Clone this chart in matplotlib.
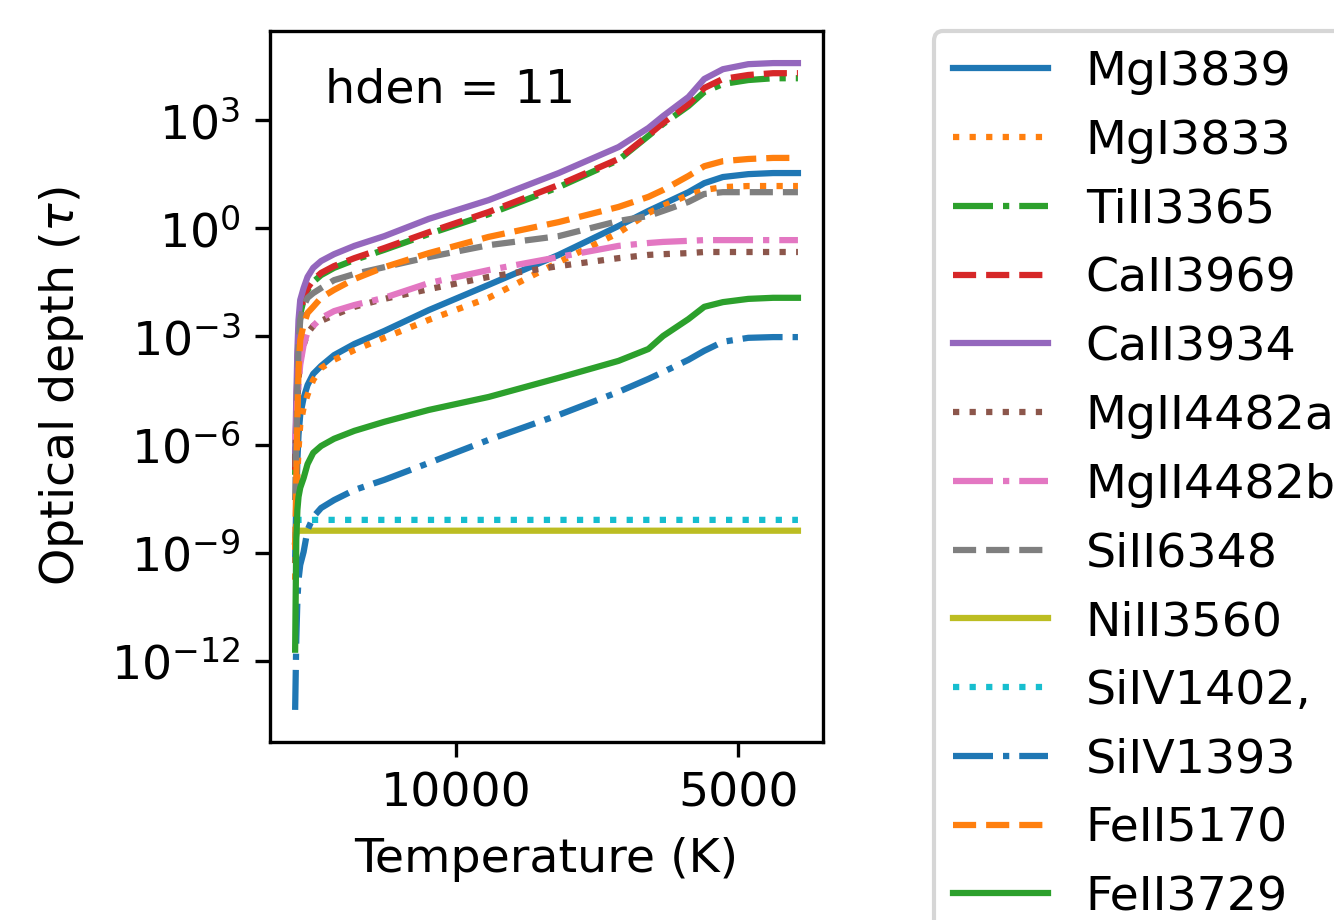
# optical depth vs temperature for a set of lines, hden = 11

import numpy as np
import matplotlib
matplotlib.use("Agg")
import matplotlib.pyplot as plt
from matplotlib.ticker import NullLocator

plt.rcParams['font.size'] = 11.4

# temperature grid (K), hot top of the slab first
temperature = [12850, 12830, 12810, 12790, 12760, 12700, 12630, 12530, 12390, 12160,
               11800, 11270, 10480, 9420, 8180, 7120, 6590, 6330, 5880, 5600,
               5270, 4820, 4380, 3940]

# log10 of the optical depth
log_MgI3839 = [-9.20, -7.54, -6.43, -5.73, -5.18, -4.71, -4.35, -4.04, -3.82, -3.52,
               -3.21, -2.85, -2.27, -1.57, -0.74, 0.06, 0.48, 0.67, 1.00, 1.25,
               1.42, 1.50, 1.53, 1.53]
log_MgI3833 = [-9.75, -8.09, -6.84, -6.15, -5.46, -4.98, -4.62, -4.21, -3.88, -3.65,
               -3.38, -3.04, -2.54, -1.93, -0.94, -0.13, 0.42, 0.62, 0.92, 1.06,
               1.14, 1.17, 1.17, 1.17]
log_TiII3365 = [-6.84, -5.46, -3.99, -3.02, -2.38, -1.99, -1.71, -1.49, -1.30, -1.10,
                -0.88, -0.60, -0.16, 0.39, 1.14, 1.89, 2.56, 2.89, 3.39, 3.78,
                4.00, 4.11, 4.16, 4.16]
log_CaII3969 = [-6.70, -5.32, -3.93, -2.96, -2.32, -1.93, -1.66, -1.44, -1.24, -1.05,
                -0.83, -0.55, -0.11, 0.45, 1.20, 1.92, 2.58, 2.92, 3.44, 3.89,
                4.14, 4.25, 4.30, 4.30]
log_CaII3934 = [-6.29, -4.76, -3.38, -2.54, -1.99, -1.66, -1.35, -1.10, -0.91, -0.72,
                -0.49, -0.22, 0.26, 0.78, 1.53, 2.25, 2.78, 3.11, 3.64, 4.14,
                4.41, 4.55, 4.58, 4.58]
log_MgII4482a = [-6.43, -5.59, -4.76, -4.21, -3.65, -3.24, -2.91, -2.71, -2.57, -2.41,
                 -2.18, -1.96, -1.69, -1.35, -1.05, -0.83, -0.74, -0.72, -0.69, -0.66,
                 -0.66, -0.66, -0.66, -0.66]
log_MgII4482b = [-5.87, -5.32, -4.76, -4.35, -3.79, -3.24, -2.88, -2.71, -2.49, -2.30,
                 -2.13, -1.93, -1.52, -1.16, -0.80, -0.49, -0.41, -0.38, -0.35, -0.33,
                 -0.33, -0.33, -0.33, -0.33]
log_SiII6348 = [-7.54, -5.87, -4.49, -3.24, -2.54, -2.16, -1.93, -1.80, -1.66, -1.44,
                -1.27, -1.08, -0.80, -0.47, -0.22, 0.20, 0.34, 0.48, 0.73, 0.95,
                1.00, 1.00, 1.00, 1.00]
log_NiII3560 = [-8.70, -8.50, -8.39, -8.39, -8.39, -8.39, -8.39, -8.39, -8.39, -8.39,
                -8.39, -8.39, -8.39, -8.39, -8.39, -8.39, -8.39, -8.39, -8.39, -8.39,
                -8.39, -8.39, -8.39, -8.39]
log_SiIV1402 = [-8.60, -8.20, -8.09, -8.09, -8.09, -8.09, -8.09, -8.09, -8.09, -8.09,
                -8.09, -8.09, -8.09, -8.09, -8.09, -8.09, -8.09, -8.09, -8.09, -8.09,
                -8.09, -8.09, -8.09, -8.09]
log_SiIV1393 = [-13.36, -11.42, -10.31, -9.75, -9.34, -8.98, -8.37, -8.01, -7.76, -7.54,
                -7.26, -6.98, -6.51, -5.87, -5.18, -4.54, -4.18, -3.99, -3.65, -3.40,
                -3.15, -3.04, -3.02, -3.02]
log_FeII5170 = [-8.92, -6.98, -5.32, -3.93, -3.10, -2.68, -2.35, -2.18, -1.93, -1.71,
                -1.41, -1.08, -0.69, -0.24, 0.17, 0.59, 0.87, 1.06, 1.45, 1.72,
                1.86, 1.92, 1.95, 1.95]
log_FeII3729 = [-11.69, -8.64, -7.81, -7.45, -7.20, -6.93, -6.54, -6.23, -6.04, -5.84,
                -5.62, -5.37, -5.04, -4.68, -4.15, -3.68, -3.35, -2.99, -2.52, -2.18,
                -2.05, -1.96, -1.93, -1.93]

line_names = ["MgI3839", "MgI3833", "TiII3365", "CaII3969", "CaII3934",
              "MgII4482a", "MgII4482b", "SiII6348", "NiII3560", "SiIV1402,",
              "SiIV1393", "FeII5170", "FeII3729"]
line_logtau = [log_MgI3839, log_MgI3833, log_TiII3365, log_CaII3969, log_CaII3934,
               log_MgII4482a, log_MgII4482b, log_SiII6348, log_NiII3560, log_SiIV1402,
               log_SiIV1393, log_FeII5170, log_FeII3729]

styles = ['-', ':', '-.', '--']

fig = plt.figure(figsize=(1334 / 300, 920 / 300), dpi=300)
ax = fig.add_subplot(111)
fig.subplots_adjust(left=0.2024, right=0.617, top=0.9663, bottom=0.1935)

for i, (name, logtau) in enumerate(zip(line_names, line_logtau)):
    ax.plot(temperature, np.power(10.0, logtau), color=f"C{i % 10}",
            linestyle=styles[i % 4], lw=1.5, label=name)

ax.set_yscale('log')
ax.set_ylim(10 ** -14.25, 10 ** 5.47)
ax.set_yticks([1e-12, 1e-9, 1e-6, 1e-3, 1e0, 1e3])
ax.yaxis.set_minor_locator(NullLocator())
ax.set_xticks([10000, 5000])
ax.set_xticklabels(["10000", "5000"])
ax.invert_xaxis()

ax.set_xlabel("Temperature (K)", labelpad=5)
ax.set_ylabel(r"Optical depth ($\tau$)", labelpad=6)
ax.text(0.1, 0.9, "hden = 11", transform=ax.transAxes)

ax.legend(loc='upper left', bbox_to_anchor=(1.2, 1.0), borderaxespad=0)

fig.savefig("out.png", dpi=300)
